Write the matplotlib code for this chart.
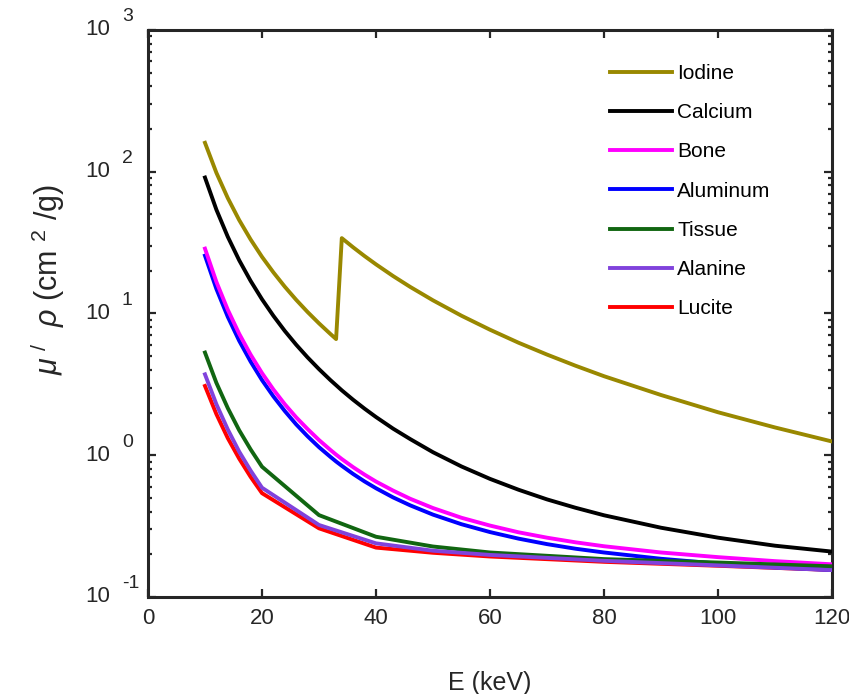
import matplotlib
matplotlib.use("Agg")
import matplotlib.pyplot as plt
import matplotlib.transforms as mtransforms
from matplotlib.ticker import LogLocator, NullFormatter

plt.rcParams['font.family'] = ['Liberation Sans', 'DejaVu Sans']
plt.rcParams['mathtext.fontset'] = 'custom'
plt.rcParams['mathtext.rm'] = 'Liberation Sans'
plt.rcParams['mathtext.it'] = 'Liberation Sans:italic'

# energies (keV)
E_fine = [10, 12, 14, 16, 18, 20, 22, 24, 26, 28, 30, 32, 33, 34, 36, 38, 40, 43, 46, 50,
          55, 60, 65, 70, 75, 80, 90, 100, 110, 120]
E_coarse = [10, 12, 14, 16, 18, 20, 30, 40, 50, 60, 80, 100, 150]

# mass attenuation coefficients (cm2/g)
iodine = [160, 98.3, 65.2, 45.6, 33.3, 25.1, 19.5, 15.45, 12.48, 10.24, 8.52, 7.17, 6.6, 34,
          29.27, 25.4, 22.21, 18.37, 15.4, 12.38, 9.64, 7.68, 6.22, 5.13, 4.28, 3.61, 2.66,
          2.01, 1.57, 1.25]
calcium = [91.0, 54.0, 34.76, 23.74, 16.99, 12.6, 9.63, 7.53, 6.02, 4.9, 4.05, 3.39, 3.12,
           2.87, 2.46, 2.13, 1.86, 1.54, 1.3, 1.05, 0.833, 0.681, 0.571, 0.488, 0.426, 0.377,
           0.308, 0.262, 0.23, 0.209]
bone = [28.67, 16.71, 10.62, 7.19, 5.13, 3.8, 2.91, 2.29, 1.85, 1.53, 1.28, 1.09, 1.01, 0.94,
        0.823, 0.729, 0.652, 0.563, 0.493, 0.424, 0.362, 0.319, 0.286, 0.262, 0.243, 0.228,
        0.206, 0.191, 0.179, 0.17]
aluminum = [25.58, 14.91, 9.47, 6.42, 4.58, 3.39, 2.6, 2.05, 1.65, 1.36, 1.14, 0.974, 0.903,
            0.842, 0.737, 0.653, 0.585, 0.504, 0.443, 0.381, 0.326, 0.287, 0.258, 0.236,
            0.219, 0.206, 0.186, 0.172, 0.162, 0.155]
tissue = [5.3, 3.24, 2.15, 1.50, 1.10, 0.83, 0.378, 0.266, 0.227, 0.206, 0.185, 0.175, 0.15]
alanine = [3.72, 2.29, 1.52, 1.06, 0.78, 0.59, 0.322, 0.239, 0.212, 0.198, 0.180, 0.167, 0.138]
lucite = [3.08, 1.95, 1.32, 0.946, 0.704, 0.54, 0.305, 0.223, 0.205, 0.193, 0.177, 0.166, 0.14]

dark = '#262626'
lw = 2.8

fig = plt.figure(figsize=(8.49, 6.94), dpi=100)
ax = fig.add_axes([0.1743, 0.1398, 0.8057, 0.817])

ax.plot(E_fine, iodine, color='#998800', lw=lw, label='Iodine', zorder=3)
ax.plot(E_fine, calcium, color='black', lw=lw, label='Calcium', zorder=3)
ax.plot(E_fine, bone, color='#FF00FF', lw=lw, label='Bone', zorder=3)
ax.plot(E_fine, aluminum, color='#0000FF', lw=lw, label='Aluminum', zorder=2.9)
ax.plot(E_coarse, tissue, color='#116611', lw=lw, label='Tissue', zorder=3)
ax.plot(E_coarse, alanine, color='#8042DC', lw=lw, label='Alanine', zorder=3)
ax.plot(E_coarse, lucite, color='#FF0000', lw=lw, label='Lucite', zorder=2.8)

ax.set_yscale('log')
ax.set_xlim(0, 120)
ax.set_ylim(0.1, 1000)
ax.set_xticks([0, 20, 40, 60, 80, 100, 120])
ax.yaxis.set_major_locator(LogLocator(base=10, numticks=10))
ax.yaxis.set_minor_locator(LogLocator(base=10, subs=range(2, 10), numticks=20))
ax.yaxis.set_minor_formatter(NullFormatter())
ax.set_yticklabels([])

for s in ax.spines.values():
    s.set_linewidth(2.2)
    s.set_color(dark)
ax.tick_params(which='both', direction='in', top=True, right=True, color=dark, width=1.6)
ax.tick_params(which='major', length=6)
ax.tick_params(which='minor', length=3)
ax.tick_params(axis='x', which='major', pad=8, labelsize=16, labelcolor=dark)

# y tick labels drawn as "10" with a raised exponent
ytr = ax.get_yaxis_transform()
base_tr = mtransforms.offset_copy(ytr, fig=fig, x=-38, y=0, units='dots')
exp_tr = mtransforms.offset_copy(ytr, fig=fig, x=-26, y=13, units='dots')
for k in [-1, 0, 1, 2, 3]:
    ax.text(0, 10.0 ** k, '10', transform=base_tr, ha='right', va='center',
            fontsize=16, color=dark)
    ax.text(0, 10.0 ** k, str(k), transform=exp_tr, ha='left', va='center',
            fontsize=14, color=dark)

ax.set_xlabel('E (keV)', fontsize=18, color=dark)
ax.xaxis.set_label_coords(0.5, -0.13)
ax.set_ylabel(r'$\mu^{\ /}\ \ \rho$ (cm $^{2}$ /g)', fontsize=22, color=dark)
ax.yaxis.set_label_coords(-0.118, 0.56)

ax.legend(loc='upper left', bbox_to_anchor=(0.675, 0.94), frameon=False,
          fontsize=15, handlelength=3.0, handletextpad=0.25, labelspacing=0.97,
          borderpad=0, borderaxespad=0)

fig.savefig('out.png', dpi=100)
